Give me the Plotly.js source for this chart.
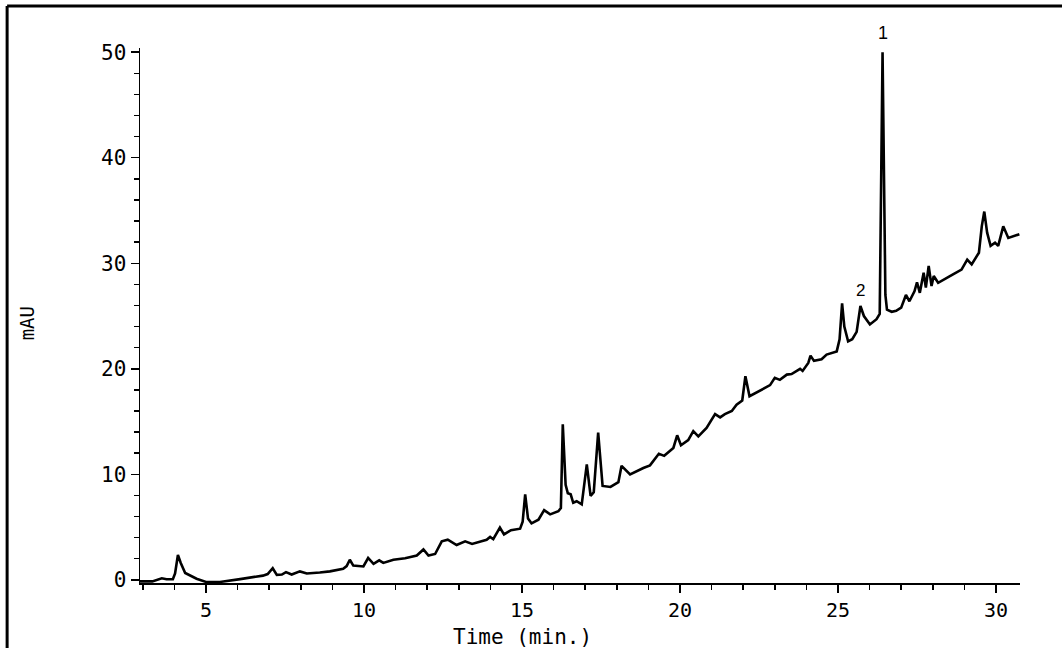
<!DOCTYPE html>
<html>
<head>
<meta charset="utf-8">
<script src="https://cdn.plot.ly/plotly-3.0.1.min.js"></script>
<style>
  html, body { margin: 0; padding: 0; background: #ffffff; }
  #chart { width: 1062px; height: 648px; }
</style>
</head>
<body>
<div id="chart"></div>
<script>
// Retention time (min)
const timeMin = [
  2.91, 3.3, 3.6, 3.75, 3.95, 4.02, 4.11, 4.2, 4.34, 4.5, 4.7, 5.0, 5.44, 6.08, 6.5, 6.8, 6.95,
  7.11, 7.24, 7.4, 7.53, 7.71, 7.97, 8.19, 8.6, 8.92, 9.34, 9.45, 9.55, 9.66, 9.98, 10.13,
  10.3, 10.48, 10.61, 10.93, 11.3, 11.67, 11.88, 12.04, 12.25, 12.46, 12.65, 12.93, 13.2,
  13.42, 13.88, 13.99, 14.09, 14.3, 14.43, 14.65, 14.94, 15.02, 15.1, 15.19, 15.3, 15.52,
  15.7, 15.89, 16.15, 16.23, 16.29, 16.38, 16.45, 16.54, 16.62, 16.73, 16.89, 17.05, 17.17,
  17.27, 17.41, 17.55, 17.8, 18.05, 18.15, 18.42, 18.84, 19.05, 19.33, 19.5, 19.79, 19.91,
  20.03, 20.26, 20.42, 20.58, 20.84, 21.11, 21.27, 21.42, 21.64, 21.79, 21.97, 22.07, 22.2,
  22.64, 22.85, 23.0, 23.16, 23.38, 23.53, 23.8, 23.88, 24.06, 24.13, 24.24, 24.48, 24.64,
  24.96, 25.05, 25.13, 25.2, 25.32, 25.45, 25.59, 25.71, 25.82, 26.01, 26.22, 26.32, 26.41,
  26.5, 26.55, 26.7, 26.84, 27.0, 27.15, 27.26, 27.42, 27.5, 27.59, 27.71, 27.78, 27.87,
  27.96, 28.03, 28.17, 28.64, 28.91, 29.09, 29.23, 29.46, 29.55, 29.63, 29.72, 29.83, 29.97,
  30.07, 30.23, 30.39, 30.55, 30.74
];
// Absorbance (mAU)
const absorbance = [
  -0.15, -0.15, 0.15, 0.05, 0.05, 0.6, 2.35, 1.6, 0.65, 0.4, 0.1, -0.2, -0.2, 0.07, 0.25, 0.4, 0.55,
  1.1, 0.47, 0.5, 0.73, 0.5, 0.8, 0.6, 0.7, 0.8, 1.05, 1.3, 1.9, 1.35, 1.27, 2.07,
  1.52, 1.85, 1.6, 1.9, 2.05, 2.3, 2.88, 2.3, 2.45, 3.65, 3.8, 3.3, 3.65,
  3.4, 3.8, 4.06, 3.85, 4.95, 4.3, 4.7, 4.85, 5.5, 8.1, 5.8, 5.35, 5.7,
  6.6, 6.2, 6.5, 6.8, 14.75, 9.0, 8.2, 8.1, 7.3, 7.45, 7.15, 10.95, 7.95,
  8.3, 13.95, 8.9, 8.8, 9.25, 10.8, 10.0, 10.6, 10.85, 11.95, 11.75, 12.5, 13.7,
  12.75, 13.25, 14.1, 13.6, 14.4, 15.7, 15.4, 15.7, 16.0, 16.6, 17.0, 19.3, 17.4,
  18.1, 18.45, 19.15, 18.95, 19.45, 19.5, 20.0, 19.8, 20.55, 21.25, 20.75, 20.9, 21.35,
  21.65, 22.8, 26.2, 24.0, 22.6, 22.8, 23.5, 25.95, 25.0, 24.2, 24.7, 25.2, 50.0,
  27.0, 25.6, 25.4, 25.5, 25.8, 27.0, 26.4, 27.35, 28.2, 27.2, 29.1, 27.7, 29.75,
  27.85, 28.8, 28.15, 28.95, 29.4, 30.35, 29.9, 31.0, 33.5, 34.9, 32.9, 31.65, 31.95,
  31.65, 33.5, 32.4, 32.55, 32.75
];
// Axis ticks
const xTicks = [5, 10, 15, 20, 25, 30];
const xTickLabels = ["5", "10", "15", "20", "25", "30"];
const yTicks = [0, 10, 20, 30, 40, 50];
const yTickLabels = ["0", "10", "20", "30", "40", "50"];
// Peak labels
const peakLabels = ["1", "2"];
const peakTimes = [26.41, 25.7];

const mono = "DejaVu Sans Mono, monospace";

const trace = {
  x: timeMin,
  y: absorbance,
  type: "scatter",
  mode: "lines",
  line: { color: "#000000", width: 2.6 },
  hoverinfo: "skip"
};

const layout = {
  width: 1062,
  height: 648,
  margin: { l: 140, r: 42, t: 48, b: 65, pad: 0 },
  paper_bgcolor: "#ffffff",
  plot_bgcolor: "#ffffff",
  showlegend: false,
  xaxis: {
    range: [2.91, 30.76],
    tickmode: "array",
    tickvals: xTicks,
    ticktext: xTickLabels,
    ticks: "outside",
    ticklen: 8,
    tickwidth: 1.5,
    tickcolor: "#000",
    minor: { dtick: 1, tick0: 0, ticks: "outside", ticklen: 5, tickwidth: 1.5, tickcolor: "#000", showgrid: false },
    showline: true,
    linecolor: "#000",
    linewidth: 1.5,
    showgrid: false,
    zeroline: false,
    tickfont: { family: mono, size: 20, color: "#000" }
  },
  yaxis: {
    range: [-0.3, 50.4],
    tickmode: "array",
    tickvals: yTicks,
    ticktext: yTickLabels,
    ticks: "outside",
    ticklen: 8,
    tickwidth: 1.5,
    tickcolor: "#000",
    minor: { dtick: 2, tick0: 0, ticks: "outside", ticklen: 5, tickwidth: 1.5, tickcolor: "#000", showgrid: false },
    showline: true,
    linecolor: "#000",
    linewidth: 1.5,
    showgrid: false,
    zeroline: false,
    tickfont: { family: mono, size: 21, color: "#000" }
  },
  annotations: [
    { text: "Time (min.)", xref: "x", yref: "paper", x: 15, y: -0.1, xanchor: "center", yanchor: "middle",
      showarrow: false, font: { family: mono, size: 21, color: "#000" } },
    { text: "mAU", xref: "paper", yref: "paper", x: -0.128, y: 0.486, xanchor: "center", yanchor: "middle",
      textangle: -90, showarrow: false, font: { family: mono, size: 19, color: "#000" } },
    { text: peakLabels[0], xref: "x", yref: "paper", x: peakTimes[0], y: 1.028, xanchor: "center", yanchor: "middle",
      showarrow: false, font: { family: "Liberation Sans, Arial, sans-serif", size: 18, color: "#000" } },
    { text: peakLabels[1], xref: "x", yref: "y", x: peakTimes[1], y: 27.4, xanchor: "center", yanchor: "middle",
      showarrow: false, font: { family: "Liberation Sans, Arial, sans-serif", size: 17, color: "#000" } }
  ],
  shapes: [
    { type: "line", xref: "paper", yref: "paper", x0: -0.151, x1: 1.1, y0: 1.0785, y1: 1.0785,
      line: { color: "#000", width: 3 } },
    { type: "line", xref: "paper", yref: "paper", x0: -0.151, x1: -0.151, y0: 1.0785, y1: -0.2,
      line: { color: "#000", width: 3 } }
  ]
};

Plotly.newPlot("chart", [trace], layout, { staticPlot: true, displayModeBar: false });
</script>
</body>
</html>
